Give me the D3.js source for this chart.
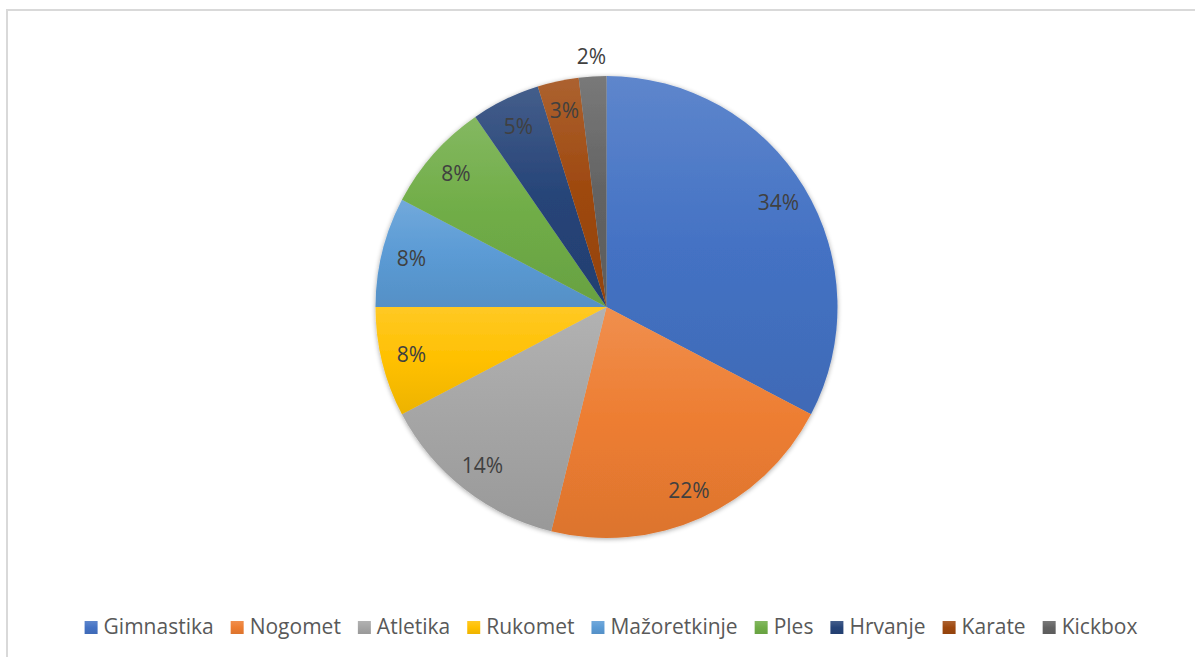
<!DOCTYPE html>
<html>
<head>
<meta charset="utf-8">
<script src="https://cdn.jsdelivr.net/npm/d3@7"></script>
<style>
  body { margin: 0; background: #fff; }
  svg { display: block; font-family: "Open Sans", sans-serif; }
</style>
</head>
<body>
<div id="chart"></div>
<script>
// chart data
var sports = ["Gimnastika", "Nogomet", "Atletika", "Rukomet", "Mažoretkinje", "Ples", "Hrvanje", "Karate", "Kickbox"];
var values = [34, 22, 14, 8, 8, 8, 5, 3, 2];
var colors = ["#4472C4", "#ED7D31", "#A5A5A5", "#FFC000", "#5B9BD5", "#70AD47", "#264478", "#9E480E", "#636363"];

var width = 1195, height = 657;
var cx = 606.5, cy = 307, radius = 231;

var svg = d3.select("#chart").append("svg")
  .attr("width", width)
  .attr("height", height);

var defs = svg.append("defs");

// soft shadow round the pie
var shadow = defs.append("filter")
  .attr("id", "shadow")
  .attr("x", "-10%").attr("y", "-10%")
  .attr("width", "120%").attr("height", "120%");
shadow.append("feGaussianBlur")
  .attr("in", "SourceAlpha")
  .attr("stdDeviation", 2.5);
shadow.append("feOffset")
  .attr("dx", 0).attr("dy", 1)
  .attr("result", "blur");
shadow.append("feComponentTransfer")
  .append("feFuncA").attr("type", "linear").attr("slope", 0.35);
var merge = shadow.append("feMerge");
merge.append("feMergeNode");
merge.append("feMergeNode").attr("in", "SourceGraphic");

// one vertical gradient per slice, lighter on top
colors.forEach(function(c, i) {
  var g = defs.append("linearGradient")
    .attr("id", "grad" + i)
    .attr("x1", 0).attr("y1", 0)
    .attr("x2", 0).attr("y2", 1);
  g.append("stop").attr("offset", "0%")
    .attr("stop-color", d3.interpolateRgb(c, "#ffffff")(0.14));
  g.append("stop").attr("offset", "50%")
    .attr("stop-color", c);
  g.append("stop").attr("offset", "100%")
    .attr("stop-color", d3.interpolateRgb(c, "#000000")(0.07));
});

// chart area border
svg.append("rect")
  .attr("x", 7).attr("y", 10)
  .attr("width", 1210).attr("height", 680)
  .attr("fill", "none")
  .attr("stroke", "#d9d9d9")
  .attr("stroke-width", 2);

var pie = d3.pie()
  .sort(null)
  .value(function(d) { return d; });

var arcs = pie(values);

var arc = d3.arc()
  .innerRadius(0)
  .outerRadius(radius);

var labelArc = d3.arc()
  .innerRadius(201)
  .outerRadius(201);

var outerArc = d3.arc()
  .innerRadius(251)
  .outerRadius(251);

var g = svg.append("g")
  .attr("transform", "translate(" + cx + "," + cy + ")");

g.append("g")
  .attr("filter", "url(#shadow)")
  .selectAll("path")
  .data(arcs)
  .enter()
  .append("path")
  .attr("d", arc)
  .attr("fill", function(d, i) { return "url(#grad" + i + ")"; });

// data labels
g.selectAll("text.label")
  .data(arcs)
  .enter()
  .append("text")
  .attr("class", "label")
  .attr("transform", function(d) {
    var p = d.data < 3 ? outerArc.centroid(d) : labelArc.centroid(d);
    return "translate(" + p[0] + "," + p[1] + ")";
  })
  .attr("text-anchor", "middle")
  .attr("dy", "0.35em")
  .attr("font-size", 21)
  .attr("fill", "#404040")
  .text(function(d) { return d.data + "%"; });

// legend, laid out by measured text widths and centred
var legend = svg.append("g")
  .attr("transform", "translate(0,627)");

var items = legend.selectAll("g")
  .data(sports)
  .enter()
  .append("g");

items.append("rect")
  .attr("y", -6)
  .attr("width", 13)
  .attr("height", 13)
  .attr("fill", function(d, i) { return "url(#grad" + i + ")"; });

items.append("text")
  .attr("x", 19)
  .attr("dy", "0.35em")
  .attr("font-size", 21)
  .attr("fill", "#595959")
  .text(function(d) { return d; });

var gap = 17;
var xpos = 0, offsets = [];
items.each(function() {
  var w = d3.select(this).select("text").node().getComputedTextLength();
  offsets.push(xpos);
  xpos += 19 + w + gap;
});
var total = xpos - gap;
var start = 611 - total / 2;
items.attr("transform", function(d, i) {
  return "translate(" + (start + offsets[i]) + ",0)";
});
</script>
</body>
</html>
